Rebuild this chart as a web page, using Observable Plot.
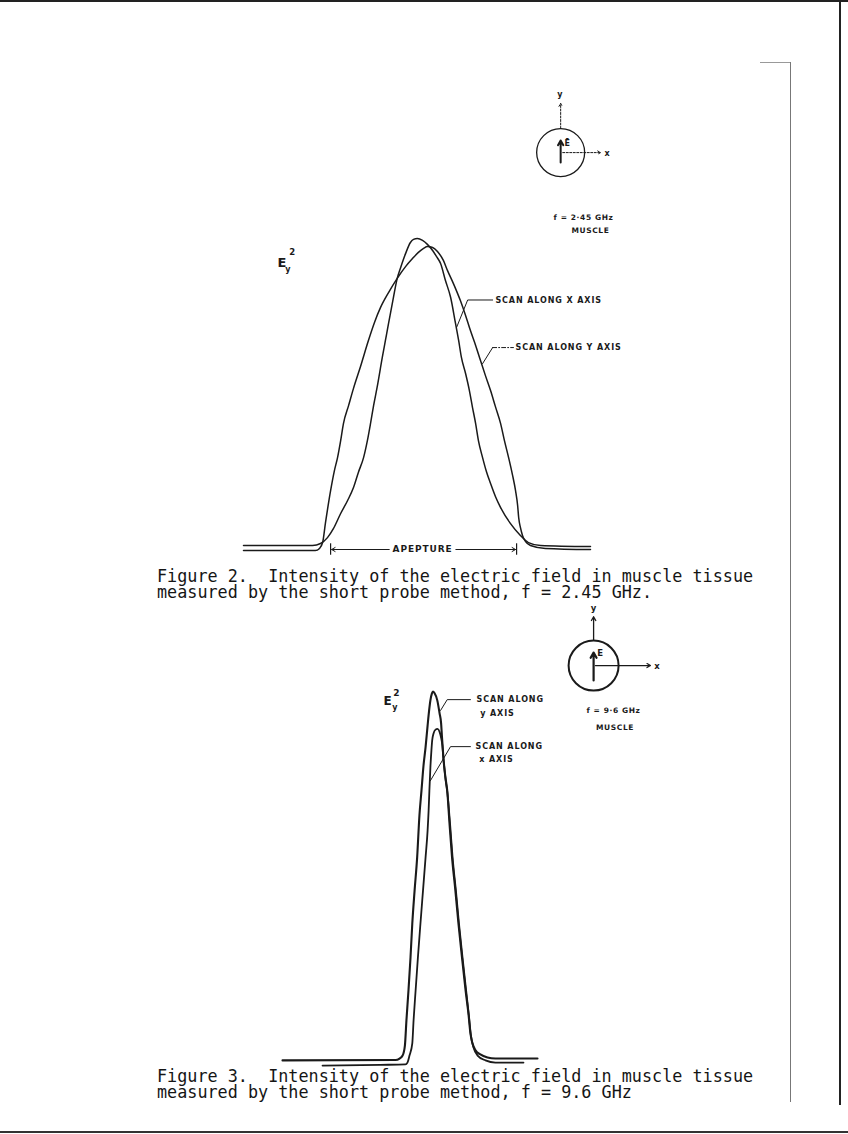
<!DOCTYPE html>
<html><head><meta charset="utf-8">
<script src="https://cdn.jsdelivr.net/npm/d3@7"></script>
<script src="https://cdn.jsdelivr.net/npm/@observablehq/plot@0.6"></script>
<style>
html,body{margin:0;padding:0;background:#fff;}
#page{position:relative;width:848px;height:1134px;overflow:hidden;background:#fff;}
.fig{position:absolute;left:0;}
.cap{position:absolute;left:157px;font-family:"DejaVu Sans Mono","Liberation Mono",monospace;font-size:16.8px;line-height:15.5px;color:#151515;white-space:pre;z-index:2;}
.deco{position:absolute;background:#222;}
</style></head>
<body><div id="page">
<div class="deco" style="left:0;top:0;width:848px;height:2px;"></div>
<div class="deco" style="left:839px;top:0;width:2px;height:1105px;"></div>
<div class="deco" style="left:790px;top:62px;width:1px;height:1040px;background:#777;"></div>
<div class="deco" style="left:760px;top:62px;width:30px;height:1px;background:#999;"></div>
<div class="deco" style="left:0;top:1131px;width:848px;height:2px;background:#333;"></div>
<div id="fig2" class="fig" style="top:0;"></div>
<div class="cap" style="top:569px;">Figure 2.  Intensity of the electric field in muscle tissue
measured by the short probe method, f = 2.45 GHz.</div>
<div id="fig3" class="fig" style="top:590px;"></div>
<div class="cap" style="top:1069px;">Figure 3.  Intensity of the electric field in muscle tissue
measured by the short probe method, f = 9.6 GHz</div>
</div>
<script>
// ---------- Figure 2 (f = 2.45 GHz): position across aperture (0–100), Ey^2 in % of peak ----------
const fig2ScanXPos = [0,16.4,19.9,22.2,24.2,25.9,28.0,30.0,31.7,33.1,34.6,35.7,36.6,37.5,38.5,40.0,40.9,41.8,43.2,44.3,45.2,46.7,48.1,49.0,50.1,51.6,53.0,54.5,55.6,56.8,58.2,59.7,61.1,62.0,62.8,64.0,65.1,66.0,66.9,67.7,68.9,70.0,71.2,72.6,74.1,76.9,79.8,82.1,85.6,100];
const fig2ScanXVal = [0.65,0.65,0.65,1.3,3.2,6.1,11.0,15.2,19.4,24.3,29.1,34.6,40.1,46.0,51.8,61.5,67.0,72.5,80.9,87.1,90.3,95.1,98.7,99.7,100,99.4,98.1,96.1,94.2,91.9,86.4,80.9,72.5,67.0,61.5,56.3,50.8,45.3,40.1,34.6,29.1,24.6,20.7,16.5,12.9,7.8,3.9,1.6,0.65,0.3];
const fig2ScanYPos = [0,20.7,21.9,22.8,23.6,25.1,26.2,27.1,28.0,28.8,30.3,31.7,33.7,36.0,37.8,39.5,41.8,44.3,46.7,48.7,50.4,51.9,53.0,54.5,55.9,57.6,58.8,60.5,62.5,64.0,65.4,66.9,68.3,69.7,71.2,72.6,74.1,75.2,76.4,77.5,78.4,79.0,79.3,79.8,80.4,81.3,82.7,87.0,100];
const fig2ScanYVal = [-1.0,-1.0,-0.3,1.6,7.8,18.4,24.9,29.1,34.6,40.1,46.0,51.5,58.5,67.0,73.0,77.7,82.5,87.1,90.9,93.5,95.5,96.8,97.4,97.1,95.8,92.9,89.6,85.4,79.9,75.1,70.2,65.4,60.5,55.7,50.8,45.6,40.1,34.6,29.1,23.6,18.4,13.6,9.7,6.5,3.9,1.9,0.65,-0.3,-0.65];
const fig2Labels = ["SCAN ALONG X AXIS", "SCAN ALONG Y AXIS"];
const fig2ApertureLabel = "APEPTURE";
const fig2Freq = ["f = 2·45 GHz", "MUSCLE"];

// ---------- Figure 3 (f = 9.6 GHz) ----------
const fig3ScanYPos = [0,44.3,45.9,47.1,48.0,48.6,49.4,50.2,50.9,51.8,52.8,53.7,54.5,55.3,56.1,56.9,57.5,58.0,58.6,59.0,59.6,60.7,61.6,62.2,62.5,62.9,63.3,63.9,64.6,65.5,66.5,67.8,69.0,70.4,71.8,73.0,73.7,74.5,75.7,77.6,80.4,83.5,100];
const fig3ScanYVal = [0.3,0.4,0.8,1.6,4.3,11.1,19.2,28.1,37.3,46.2,55.1,66.5,73.2,80.0,84.9,90.8,94.9,97.6,99.5,100,99.6,97.6,94.1,91.4,88.1,84.1,80.5,76.8,73.2,64.3,55.1,46.2,37.3,28.1,19.2,12.4,7.6,4.9,3.0,1.9,1.1,0.8,0.8];
const fig3ScanXPos = [15.7,38.4,48.2,49.0,49.8,50.9,51.4,52.2,53.1,54.1,55.1,56.1,56.9,57.3,57.6,58.0,58.4,58.7,59.2,60.0,60.8,61.6,62.2,62.7,63.1,63.5,64.0,64.7,65.7,66.7,68.0,69.2,70.6,72.0,73.1,73.9,74.9,76.5,79.6,83.5,94.5];
const fig3ScanXVal = [-1.1,-0.9,-0.8,-0.3,1.6,4.9,11.1,19.2,28.1,37.3,46.2,55.1,62.4,67.8,73.2,79.5,84.1,86.8,88.6,89.7,89.9,89.1,87.5,85.4,81.9,79.2,75.9,72.4,64.3,55.1,46.2,37.3,28.1,19.2,12.4,7.0,3.8,1.6,0.3,-0.3,-0.3];
const fig3Labels = [["SCAN ALONG", "y AXIS"], ["SCAN ALONG", "x AXIS"]];
const fig3Freq = ["f = 9·6 GHz", "MUSCLE"];

const rows = (xs, ys) => xs.map((x, i) => ({x, y: ys[i]}));
const INK = "#1a1a1a";
const LBL = {fontFamily: "DejaVu Sans, sans-serif", fontWeight: "bold", fill: INK};
const CURVE = "monotone-x";

function spaceLetters(svg) {
  d3.select(svg).selectAll("text").each(function () {
    const t = this.textContent;
    if (/SCAN|AXIS|APEPTURE/.test(t)) this.setAttribute("letter-spacing", "0.9");
    else if (/GHz|MUSCLE/.test(t)) this.setAttribute("letter-spacing", "0.6");
  });
}

// ---------- Figure 2 plot ----------
const f2 = Plot.plot({
  width: 848, height: 560,
  marginLeft: 243, marginRight: 258, marginTop: 238, marginBottom: 13,
  x: {domain: [0, 100], axis: null},
  y: {domain: [0, 100], axis: null},
  style: {background: "transparent", overflow: "visible"},
  marks: [
    Plot.line(rows(fig2ScanXPos, fig2ScanXVal), {x: "x", y: "y", curve: CURVE, stroke: INK, strokeWidth: 1.5}),
    Plot.line(rows(fig2ScanYPos, fig2ScanYVal), {x: "x", y: "y", curve: CURVE, stroke: INK, strokeWidth: 1.5}),
    // leader lines
    Plot.line([{x: 61.4, y: 71.2}, {x: 64.6, y: 80.1}, {x: 71.8, y: 80.1}], {x: "x", y: "y", stroke: INK, strokeWidth: 1}),
    Plot.line([{x: 68.9, y: 59.5}, {x: 71.8, y: 64.7}], {x: "x", y: "y", stroke: INK, strokeWidth: 1}),
    Plot.line([{x: 71.8, y: 64.7}, {x: 77.8, y: 64.7}], {x: "x", y: "y", stroke: INK, strokeWidth: 1, strokeDasharray: "4,2,1,2"}),
    Plot.text([{x: 72.6, y: 80.1, t: fig2Labels[0]}, {x: 78.4, y: 64.7, t: fig2Labels[1]}], {x: "x", y: "y", text: "t", textAnchor: "start", fontSize: 8, ...LBL}),
    // Ey^2 label
    Plot.text([{x: 11.1, y: 92.2, t: "E"}], {x: "x", y: "y", text: "t", fontSize: 13, ...LBL}),
    Plot.text([{x: 14.0, y: 95.5, t: "2"}], {x: "x", y: "y", text: "t", fontSize: 8.5, ...LBL}),
    Plot.text([{x: 12.8, y: 90.0, t: "y"}], {x: "x", y: "y", text: "t", fontSize: 8, ...LBL}),
    // aperture
    Plot.ruleX([25.1, 78.7], {y1: -2.5, y2: 1.2, stroke: INK, strokeWidth: 1.2}),
    Plot.arrow([{x1: 42.0, x2: 25.4, y: -0.65}], {x1: "x1", x2: "x2", y1: "y", y2: "y", stroke: INK, strokeWidth: 1, headLength: 6}),
    Plot.arrow([{x1: 61.2, x2: 78.4, y: -0.65}], {x1: "x1", x2: "x2", y1: "y", y2: "y", stroke: INK, strokeWidth: 1, headLength: 6}),
    Plot.text([{x: 51.6, y: -0.65, t: fig2ApertureLabel}], {x: "x", y: "y", text: "t", fontSize: 9, ...LBL}),
    // inset: probe orientation
    Plot.dot([{x: 91.4, y: 127.8}], {x: "x", y: "y", r: 24, stroke: INK, fill: "none", strokeWidth: 1.3}),
    Plot.arrow([{x1: 91.4, y1: 135.6, x2: 91.4, y2: 143.7}], {x1: "x1", y1: "y1", x2: "x2", y2: "y2", stroke: INK, strokeWidth: 1, strokeDasharray: "2,1.5", headLength: 5}),
    Plot.arrow([{x1: 91.4, y1: 124.6, x2: 91.4, y2: 131.7}], {x1: "x1", y1: "y1", x2: "x2", y2: "y2", stroke: INK, strokeWidth: 2, headLength: 4}),
    Plot.arrow([{x1: 92.0, y1: 127.8, x2: 102.9, y2: 127.8}], {x1: "x1", y1: "y1", x2: "x2", y2: "y2", stroke: INK, strokeWidth: 1, strokeDasharray: "2,1.5", headLength: 5}),
    Plot.text([{x: 91.2, y: 146.6, t: "y"}, {x: 104.8, y: 127.6, t: "x"}, {x: 93.3, y: 130.9, t: "Ē"}], {x: "x", y: "y", text: "t", fontSize: 8, ...LBL}),
    Plot.text([{x: 98.0, y: 106.8, t: fig2Freq[0]}, {x: 100.0, y: 102.6, t: fig2Freq[1]}], {x: "x", y: "y", text: "t", fontSize: 7.5, ...LBL})
  ]
});
spaceLetters(f2);
document.getElementById("fig2").appendChild(f2);

// ---------- Figure 3 plot ----------
const f3 = Plot.plot({
  width: 848, height: 480,
  marginLeft: 282, marginRight: 311, marginTop: 101, marginBottom: 9,
  x: {domain: [0, 100], axis: null},
  y: {domain: [0, 100], axis: null},
  style: {background: "transparent", overflow: "visible"},
  marks: [
    Plot.line(rows(fig3ScanYPos, fig3ScanYVal), {x: "x", y: "y", curve: CURVE, stroke: INK, strokeWidth: 2.1}),
    Plot.line(rows(fig3ScanXPos, fig3ScanXVal), {x: "x", y: "y", curve: CURVE, stroke: INK, strokeWidth: 1.8}),
    // leaders
    Plot.line([{x: 62.0, y: 94.9}, {x: 64.6, y: 97.8}, {x: 73.7, y: 97.8}], {x: "x", y: "y", stroke: INK, strokeWidth: 1}),
    Plot.line([{x: 58.0, y: 75.9}, {x: 65.9, y: 85.1}, {x: 73.7, y: 85.1}], {x: "x", y: "y", stroke: INK, strokeWidth: 1}),
    Plot.text([{x: 76.1, y: 97.8, t: fig3Labels[0][0]}, {x: 75.7, y: 85.1, t: fig3Labels[1][0]}], {x: "x", y: "y", text: "t", textAnchor: "start", fontSize: 8, ...LBL}),
    Plot.text([{x: 84.3, y: 94.1, t: fig3Labels[0][1]}, {x: 83.9, y: 81.6, t: fig3Labels[1][1]}], {x: "x", y: "y", text: "t", fontSize: 8, ...LBL}),
    // Ey^2
    Plot.text([{x: 41.2, y: 97.4, t: "E"}], {x: "x", y: "y", text: "t", fontSize: 12, ...LBL}),
    Plot.text([{x: 44.7, y: 99.6, t: "2"}], {x: "x", y: "y", text: "t", fontSize: 9, ...LBL}),
    Plot.text([{x: 44.1, y: 95.8, t: "y"}], {x: "x", y: "y", text: "t", fontSize: 8, ...LBL}),
    // inset
    Plot.dot([{x: 122.0, y: 107.0}], {x: "x", y: "y", r: 25, stroke: INK, fill: "none", strokeWidth: 2}),
    Plot.arrow([{x1: 122.0, y1: 113.8, x2: 122.0, y2: 120.2}], {x1: "x1", y1: "y1", x2: "x2", y2: "y2", stroke: INK, strokeWidth: 1.3, headLength: 5}),
    Plot.arrow([{x1: 122.0, y1: 103.0, x2: 122.0, y2: 110.5}], {x1: "x1", y1: "y1", x2: "x2", y2: "y2", stroke: INK, strokeWidth: 2.2, headLength: 4}),
    Plot.arrow([{x1: 122.7, y1: 107.0, x2: 144.3, y2: 107.0}], {x1: "x1", y1: "y1", x2: "x2", y2: "y2", stroke: INK, strokeWidth: 1.2, headLength: 5}),
    Plot.text([{x: 122.0, y: 122.6, t: "y"}, {x: 146.9, y: 106.8, t: "x"}, {x: 124.6, y: 110.3, t: "E"}], {x: "x", y: "y", text: "t", fontSize: 8.5, ...LBL}),
    Plot.text([{x: 129.8, y: 94.9, t: fig3Freq[0]}, {x: 130.4, y: 90.3, t: fig3Freq[1]}], {x: "x", y: "y", text: "t", fontSize: 7.5, ...LBL})
  ]
});
spaceLetters(f3);
document.getElementById("fig3").appendChild(f3);
</script>
</body></html>
